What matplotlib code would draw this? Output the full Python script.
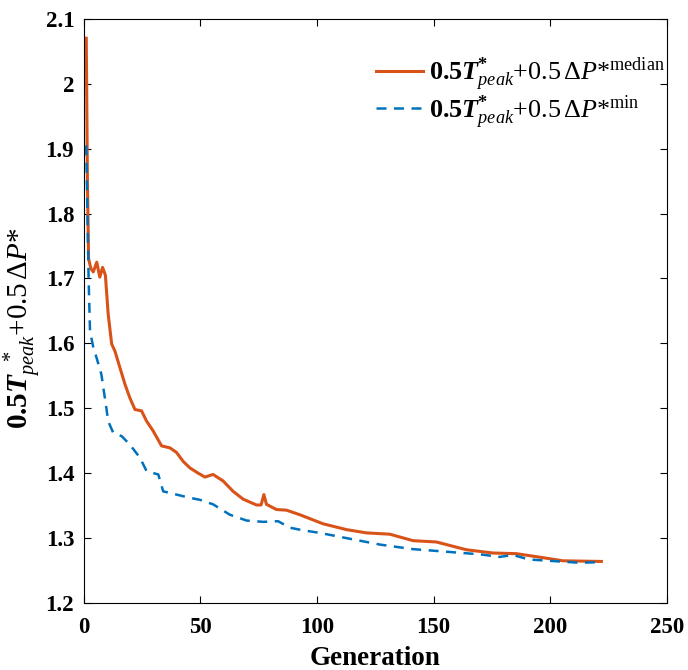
import matplotlib
matplotlib.use("Agg")
import matplotlib.pyplot as plt

# Times-like look (MATLAB figure)
plt.rcParams['font.family'] = ['Liberation Serif', 'DejaVu Serif']
plt.rcParams['mathtext.fontset'] = 'custom'
plt.rcParams['mathtext.rm'] = 'Liberation Serif'
plt.rcParams['mathtext.it'] = 'Liberation Serif:italic'
plt.rcParams['mathtext.bf'] = 'Liberation Serif:bold'
plt.rcParams['mathtext.bfit'] = 'Liberation Serif:bold:italic'

# (generation, objective value)
gen_median = [1, 1.5, 2, 3, 4, 5.5, 6.8, 8, 9.2, 10.4, 11.9, 13.3, 15.4, 17.6, 19.7,
              21.9, 24.7, 26.9, 29.7, 33.3, 36.9, 39.7, 42.6, 45.5, 49, 51.9, 55.4,
              59.7, 64, 68.3, 74, 76, 77.2, 78.3, 82.6, 86.9, 92.6, 102.6, 112.7,
              121.2, 131.2, 141.2, 151.2, 164.1, 175.5, 185.5, 198.4, 205.5, 222]
val_median = [2.07, 1.85, 1.73, 1.715, 1.71, 1.725, 1.702, 1.717, 1.705, 1.645, 1.599,
              1.588, 1.563, 1.537, 1.516, 1.498, 1.496, 1.480, 1.465, 1.442, 1.439,
              1.432, 1.418, 1.408, 1.400, 1.394, 1.398, 1.388, 1.372, 1.360, 1.351,
              1.351, 1.367, 1.352, 1.344, 1.343, 1.336, 1.322, 1.313, 1.308, 1.306,
              1.296, 1.294, 1.282, 1.277, 1.276, 1.269, 1.265, 1.264]

gen_min = [1, 2, 2.6, 4, 5.4, 7.5, 8.3, 9.4, 10.4, 12.6, 16.2, 19.7, 24, 26.9, 31.9,
           34, 39.7, 45.5, 49.7, 55.4, 62.6, 69.8, 76.9, 83.3, 88.3, 94, 101.2, 114,
           127, 141, 148.4, 155.5, 169.8, 178.4, 184, 191, 204, 212.6, 222]
val_min = [1.905, 1.70, 1.619, 1.594, 1.578, 1.552, 1.532, 1.506, 1.480, 1.462, 1.457,
           1.444, 1.424, 1.403, 1.398, 1.372, 1.367, 1.362, 1.359, 1.352, 1.336, 1.327,
           1.325, 1.326, 1.316, 1.312, 1.308, 1.299, 1.290, 1.283, 1.281, 1.279, 1.275,
           1.271, 1.274, 1.267, 1.264, 1.262, 1.263]

x_ticks = [0, 50, 100, 150, 200, 250]
y_ticks = [1.2, 1.3, 1.4, 1.5, 1.6, 1.7, 1.8, 1.9, 2.0, 2.1]
y_tick_labels = ['1.2', '1.3', '1.4', '1.5', '1.6', '1.7', '1.8', '1.9', '2', '2.1']

label_median = r'$\mathbf{0.5}\mathbfit{T}^{\mathbf{*}}_{peak}\mathrm{+0.5}\,\mathit{\Delta P}\mathrm{*}^{\mathrm{median}}$'
label_min = r'$\mathbf{0.5}\mathbfit{T}^{\mathbf{*}}_{peak}\mathrm{+0.5}\,\mathit{\Delta P}\mathrm{*}^{\mathrm{min}}$'
y_label = r'$\mathbf{0.5}\mathbfit{T}_{peak}^{\ \ *}\mathrm{+0.5}\,\mathit{\Delta P}\mathrm{*}$'

fig = plt.figure(figsize=(6.88, 6.70), dpi=100)
ax = fig.add_axes([0.122, 0.100, 0.847, 0.872])

ax.plot(gen_median, val_median, color='#D95319', lw=2.2, label=label_median)
ax.plot(gen_min, val_min, color='#0072BD', lw=1.8, ls=(0, (4, 3)), label=label_min)

ax.set_xlim(0, 250)
ax.set_ylim(1.2, 2.1)
ax.set_xticks(x_ticks)
ax.set_yticks(y_ticks)
ax.set_yticklabels(y_tick_labels)
ax.tick_params(direction='in', top=True, right=True, length=5, width=0.8, labelsize=16.5)
ax.tick_params(axis='x', pad=10)
ax.tick_params(axis='y', pad=7)
for lab in ax.get_xticklabels() + ax.get_yticklabels():
    lab.set_fontweight('bold')
for sp in ax.spines.values():
    sp.set_linewidth(0.8)

ax.set_xlabel('Generation', fontsize=19.5, fontweight='bold', labelpad=6)
ax.set_ylabel(y_label, fontsize=21)
ax.yaxis.set_label_coords(-0.068, 0.47)

ax.legend(loc='upper right', bbox_to_anchor=(1.038, 0.978), frameon=False,
          fontsize=18.8, handlelength=1.8, handletextpad=0.25, labelspacing=0.0)

fig.savefig('out.png', dpi=100)
